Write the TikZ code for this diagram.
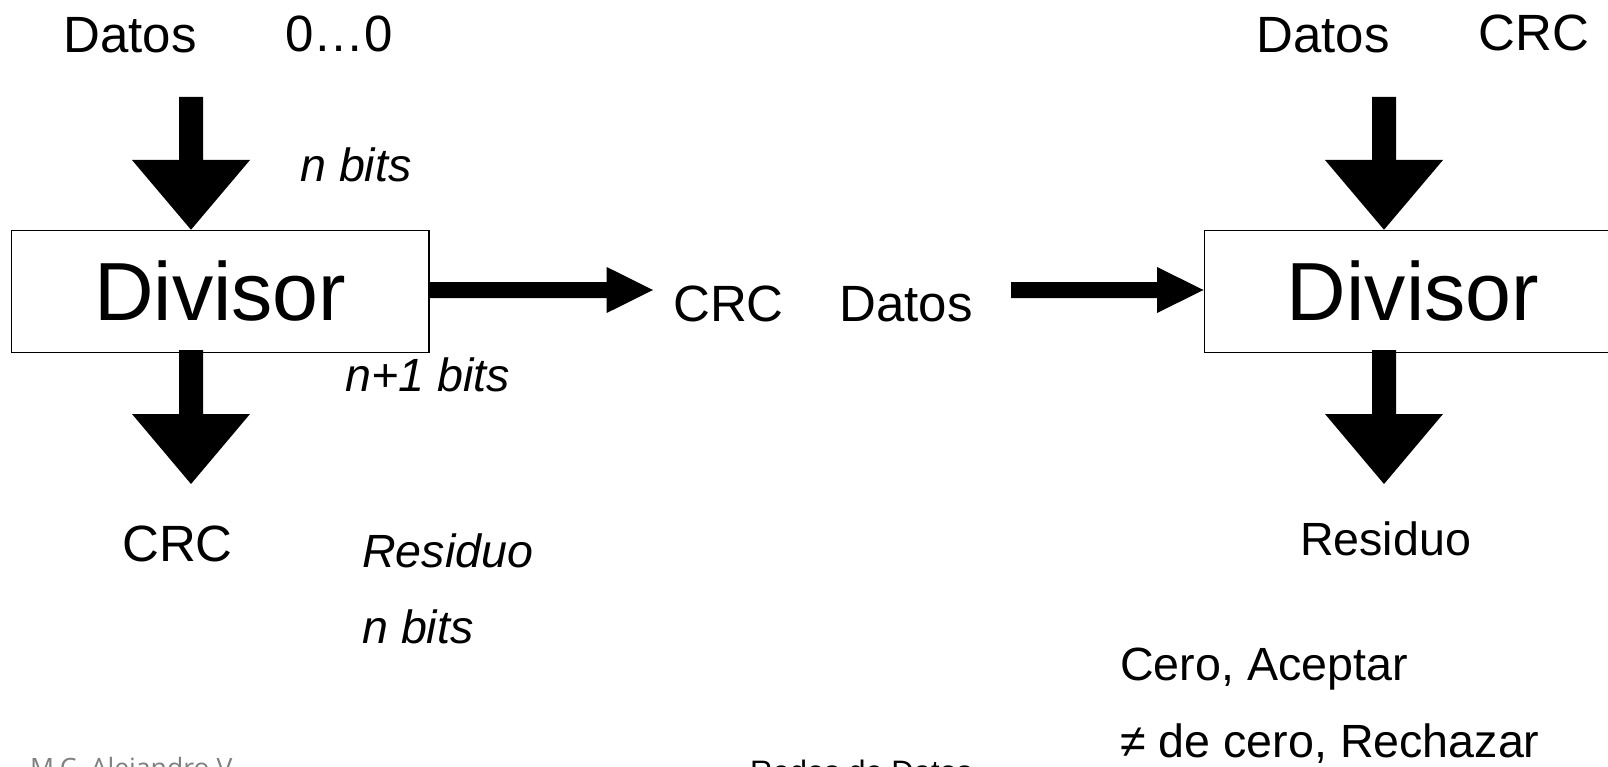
\documentclass[tikz,border=0pt]{standalone}
\usepackage{fontspec}
\setmainfont{Liberation Sans}
\newfontfamily\footfont{Open Sans}
\usetikzlibrary{calc}
\definecolor{footgray}{RGB}{128,128,128}

% block arrow pointing down: #1 top centre of the shaft, #2 shaft length, #3 tip
\newcommand\dnarrow[3]{%
  \fill ($(#1)+(-12,0)$) -- ($(#1)+(12,0)$) -- ($(#1)+(12,#2)$) -- ($(#1)+(59,#2)$)
    -- (#3) -- ($(#1)+(-59,#2)$) -- ($(#1)+(-12,#2)$) -- cycle;}
% block arrow pointing right: #1 left centre of the shaft, #2 shaft length, #3 tip
\newcommand\rtarrow[3]{%
  \fill ($(#1)+(0,-8)$) -- ($(#1)+(#2,-8)$) -- ($(#1)+(#2,-23)$)
    -- (#3) -- ($(#1)+(#2,23)$) -- ($(#1)+(#2,8)$) -- ($(#1)+(0,8)$) -- cycle;}

\begin{document}
\begin{tikzpicture}[x=1pt,y=-1pt,
  lbl/.style={inner sep=0pt, font=\fontsize{51}{51}\selectfont},
  note/.style={inner sep=0pt, font=\fontsize{46.6}{47}\selectfont},
  ital/.style={note, font=\fontsize{46.6}{47}\selectfont\itshape},
  divbox/.style={draw, line width=1.5pt, minimum width=417.5pt, minimum height=122pt,
    inner sep=0pt, font=\fontsize{82.5}{83}\selectfont}]
\fill[white] (0,0) rectangle (1608,767);
\useasboundingbox (0,0) rectangle (1608,767);

% the two dividers
\node[divbox] (divL) at (220.2,291.5) {Divisor};
\node[divbox] (divR) at (1413,291.5) {Divisor};

% sender side
\node[lbl, anchor=base] (datosL) at (130,53) {Datos};
\node[lbl, anchor=base] (ceros) at (339.5,52) {0…0};
\node[ital, anchor=base west] (nbitsIn) at (300,182) {n bits};
\node[ital, anchor=base west] (nbitsOut) at (345,391) {n+1 bits};
\node[lbl, anchor=base] (crcOut) at (177.5,561) {CRC};
\node[ital, anchor=base west] (resL) at (362,567) {Residuo};
\node[ital, anchor=base west] (nbitsRes) at (362,643) {n bits};

% transmitted frame
\node[lbl, anchor=base] (crcMid) at (728.5,321) {CRC};
\node[lbl, anchor=base] (datosMid) at (906,321) {Datos};

% receiver side
\node[lbl, anchor=base] (datosR) at (1323,53) {Datos};
\node[lbl, anchor=base] (crcR) at (1534,51) {CRC};
\node[note, anchor=base] (resR) at (1385.5,555) {Residuo};
\node[note, anchor=base west] (acepta) at (1120,680) {Cero, Aceptar};
\node[note, anchor=base west] (rechaza) at (1120,757) {≠ de cero, Rechazar};

% footer
\node[inner sep=0pt, anchor=base west, text=footgray, font=\footfont\fontsize{26.6}{27}\selectfont]
  (autor) at (30,777) {M.C. Alejandro V.};
\node[inner sep=0pt, anchor=base west, font=\fontsize{31}{31}\selectfont]
  (curso) at (750,782) {Redes de Datos};

% arrow anchors
\coordinate (midY) at (0,290);
\coordinate (inL) at (191,97);
\coordinate (outL) at (191,350);
\coordinate (tipL) at (191,484);
\coordinate (inR) at (1384,97);
\coordinate (outR) at (1384,350);
\coordinate (tipR) at (1384,484);
\coordinate (sendEnd) at (653,290);
\coordinate (recvStart) at (1011,290);

% block arrows
\dnarrow{inL}{63}{inL |- divL.north}
\dnarrow{outL}{64}{tipL}
\dnarrow{inR}{63}{inR |- divR.north}
\dnarrow{outR}{64}{tipR}
\rtarrow{divL.east |- midY}{177}{sendEnd}
\rtarrow{recvStart}{146}{divR.west |- midY}
\end{tikzpicture}
\end{document}
